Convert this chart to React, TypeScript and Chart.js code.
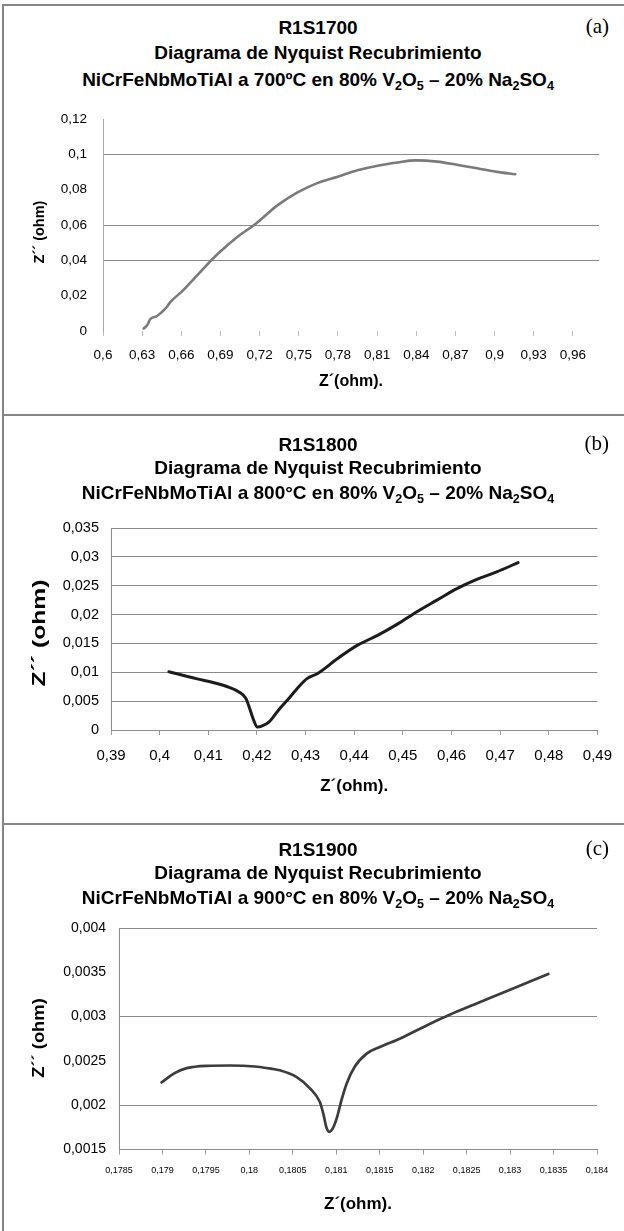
import React, { useEffect, useRef } from 'react';
import { Chart, registerables } from 'chart.js';

Chart.register(...registerables);

// ---------- Data: panel (a) R1S1700 ----------
const A_ZREAL = [0.6312, 0.6338, 0.6363, 0.6414, 0.6481, 0.6517, 0.6609, 0.6732, 0.6884, 0.7036, 0.7158, 0.7341, 0.7494, 0.7646, 0.7798, 0.795, 0.8104, 0.8256, 0.8393, 0.8561, 0.8713, 0.8866, 0.9018, 0.9159];
const A_ZIMAG = [0.0014, 0.0032, 0.0068, 0.0085, 0.0129, 0.0165, 0.0227, 0.0324, 0.044, 0.0537, 0.06, 0.0714, 0.0786, 0.0839, 0.0874, 0.091, 0.0936, 0.0954, 0.0966, 0.0959, 0.0941, 0.0922, 0.0901, 0.0888];
const A_XTICKS = [0.6, 0.63, 0.66, 0.69, 0.72, 0.75, 0.78, 0.81, 0.84, 0.87, 0.9, 0.93, 0.96];
const A_YTICKS = [0, 0.02, 0.04, 0.06, 0.08, 0.1, 0.12];
const A_GRID = [0.04, 0.06, 0.1];

// ---------- Data: panel (b) R1S1800 ----------
const B_ZREAL = [0.4019, 0.4075, 0.4116, 0.4143, 0.4163, 0.4177, 0.4184, 0.4192, 0.4201, 0.4211, 0.4225, 0.4245, 0.4266, 0.4286, 0.4303, 0.4325, 0.4366, 0.4407, 0.4448, 0.4488, 0.4529, 0.457, 0.4611, 0.4652, 0.4693, 0.4737];
const B_ZIMAG = [0.0101, 0.0089, 0.0081, 0.0074, 0.0066, 0.0055, 0.004, 0.002, 0.0005, 0.0007, 0.0014, 0.0035, 0.0055, 0.0075, 0.0089, 0.0098, 0.0124, 0.0147, 0.0164, 0.0183, 0.0205, 0.0225, 0.0245, 0.0261, 0.0274, 0.029];
const B_XTICKS = [0.39, 0.4, 0.41, 0.42, 0.43, 0.44, 0.45, 0.46, 0.47, 0.48, 0.49];
const B_YTICKS = [0, 0.005, 0.01, 0.015, 0.02, 0.025, 0.03, 0.035];
const B_GRID = [0.005, 0.01, 0.015, 0.02, 0.025, 0.03, 0.035];

// ---------- Data: panel (c) R1S1900 ----------
const C_ZREAL = [0.17899, 0.17914, 0.17928, 0.17951, 0.17978, 0.18006, 0.18025, 0.18035, 0.18054, 0.1807, 0.18081, 0.18085, 0.18089, 0.18092, 0.18096, 0.18101, 0.18106, 0.18112, 0.18121, 0.18135, 0.1815, 0.18173, 0.18208, 0.18231, 0.18265, 0.183, 0.18344];
const C_ZIMAG = [0.002257, 0.002362, 0.002418, 0.002444, 0.002448, 0.002437, 0.002412, 0.002394, 0.002319, 0.002188, 0.002038, 0.001907, 0.001738, 0.0017, 0.001738, 0.001869, 0.002057, 0.002245, 0.002431, 0.002582, 0.002656, 0.002751, 0.00292, 0.003024, 0.003162, 0.003304, 0.003482];
const C_XTICKS = [0.1785, 0.179, 0.1795, 0.18, 0.1805, 0.181, 0.1815, 0.182, 0.1825, 0.183, 0.1835, 0.184];
const C_YTICKS = [0.0015, 0.002, 0.0025, 0.003, 0.0035, 0.004];
const C_GRID = [0.002, 0.003, 0.004];

const SANS = '"Liberation Sans", Arial, Helvetica, sans-serif';
const SERIF = '"Liberation Serif", "Times New Roman", Times, serif';
const X_TITLE = 'Z´(ohm).';
const Y_TITLE = 'Z´´ (ohm)';

const fmt = (v: number) => String(v).replace('.', ',');

type Spec = {
  key: string;
  letter: string;
  name: string;
  temp: string;
  canvasTop: number;
  canvasH: number;
  area: { l: number; r: number; t: number; b: number };
  titleTops: number[];
  letterTop: number;
  xs: number[];
  ys: number[];
  xTicks: number[];
  yTicks: number[];
  grid: number[];
  xMin: number; xMax: number; yMin: number; yMax: number;
  lineColor: string; lineWidth: number;
  xFont: number; yFont: number; xPad: number; yPad: number;
  xBorder: boolean;
  tickColor: string; axisColor: string;
  xTitleSize: number; xTitleY: number;
  yTitleSize: number; yTitleX: number; yTitleY: number; yStretch: number;
};

const SPECS: Spec[] = [
  {
    key: 'a', letter: '(a)', name: 'R1S1700', temp: '700ºC',
    canvasTop: 95, canvasH: 315,
    area: { l: 103, r: 599, t: 106, b: 331 },
    titleTops: [18, 43, 70], letterTop: 14,
    xs: A_ZREAL, ys: A_ZIMAG, xTicks: A_XTICKS, yTicks: A_YTICKS, grid: A_GRID,
    xMin: 0.6, xMax: 0.98, yMin: 0, yMax: 0.12,
    lineColor: '#7a7a7a', lineWidth: 2.6,
    xFont: 13.5, yFont: 13.5, xPad: 11, yPad: 16,
    xBorder: false, tickColor: '#bdbdbd', axisColor: '#a6a6a6',
    xTitleSize: 16, xTitleY: 381.7,
    yTitleSize: 14.5, yTitleX: 40, yTitleY: 232, yStretch: 1,
  },
  {
    key: 'b', letter: '(b)', name: 'R1S1800', temp: '800°C',
    canvasTop: 420, canvasH: 400,
    area: { l: 111, r: 598, t: 528, b: 730 },
    titleTops: [435, 458, 483], letterTop: 431,
    xs: B_ZREAL, ys: B_ZIMAG, xTicks: B_XTICKS, yTicks: B_YTICKS, grid: B_GRID,
    xMin: 0.39, xMax: 0.49, yMin: 0, yMax: 0.035,
    lineColor: '#1c1c1c', lineWidth: 3,
    xFont: 15, yFont: 14.5, xPad: 12, yPad: 12,
    xBorder: true, tickColor: '#9a9a9a', axisColor: '#8c8c8c',
    xTitleSize: 17, xTitleY: 786.7,
    yTitleSize: 18, yTitleX: 40, yTitleY: 633, yStretch: 1.37,
  },
  {
    key: 'c', letter: '(c)', name: 'R1S1900', temp: '900°C',
    canvasTop: 828, canvasH: 403,
    area: { l: 119, r: 597, t: 928, b: 1149.5 },
    titleTops: [840, 863, 888], letterTop: 836,
    xs: C_ZREAL, ys: C_ZIMAG, xTicks: C_XTICKS, yTicks: C_YTICKS, grid: C_GRID,
    xMin: 0.1785, xMax: 0.184, yMin: 0.0015, yMax: 0.004,
    lineColor: '#3c3c3c', lineWidth: 2.7,
    xFont: 9, yFont: 14, xPad: 11, yPad: 13,
    xBorder: true, tickColor: '#9a9a9a', axisColor: '#8c8c8c',
    xTitleSize: 17, xTitleY: 1204,
    yTitleSize: 16, yTitleX: 40, yTitleY: 1038, yStretch: 1.15,
  },
];

function NyquistChart({ s }: { s: Spec }) {
  const ref = useRef<HTMLCanvasElement | null>(null);
  useEffect(() => {
    if (!ref.current) return;
    const canvasBottom = s.canvasTop + s.canvasH;
    const yTitlePlugin = {
      id: 'yTitle' + s.key,
      afterDraw(chart: any) {
        const ctx = chart.ctx;
        ctx.save();
        ctx.font = `bold ${s.yTitleSize}px ${SANS}`;
        ctx.fillStyle = '#000';
        ctx.translate(s.yTitleX, s.yTitleY - s.canvasTop);
        ctx.rotate(-Math.PI / 2);
        ctx.scale(s.yStretch, 1);
        ctx.textAlign = 'center';
        ctx.textBaseline = 'middle';
        ctx.fillText(Y_TITLE, 0, 0);
        ctx.restore();
      },
    };
    const chart = new Chart(ref.current, {
      type: 'line',
      data: {
        datasets: [
          {
            data: s.xs.map((x, i) => ({ x, y: s.ys[i] })),
            borderColor: s.lineColor,
            borderWidth: s.lineWidth,
            pointRadius: 0,
            fill: false,
            cubicInterpolationMode: 'monotone',
            borderCapStyle: 'round',
            borderJoinStyle: 'round',
          },
        ],
      },
      options: {
        animation: false,
        responsive: false,
        maintainAspectRatio: false,
        devicePixelRatio: 1,
        layout: {
          padding: { left: 0, top: s.area.t - s.canvasTop, right: 624 - s.area.r, bottom: 0 },
        },
        plugins: {
          legend: { display: false },
          tooltip: { enabled: false },
          title: { display: false },
        },
        scales: {
          x: {
            type: 'linear',
            min: s.xMin,
            max: s.xMax,
            afterBuildTicks: (sc: any) => {
              sc.ticks = s.xTicks.map((v) => ({ value: v }));
            },
            afterFit: (sc: any) => {
              sc.height = canvasBottom - s.area.b;
            },
            grid: {
              drawOnChartArea: false,
              drawTicks: true,
              tickLength: 5,
              color: s.tickColor,
              lineWidth: 1,
            },
            border: { display: s.xBorder, color: s.axisColor, width: 1 },
            ticks: {
              autoSkip: false,
              maxRotation: 0,
              minRotation: 0,
              padding: s.xPad,
              color: '#000',
              font: { family: SANS, size: s.xFont },
              callback: (v: any) => fmt(Number(v)),
            },
            title: {
              display: true,
              text: X_TITLE,
              color: '#000',
              font: { family: SANS, size: s.xTitleSize, weight: 'bold' },
              padding: { top: 0, bottom: canvasBottom - s.xTitleY - s.xTitleSize * 0.6 },
            },
          },
          y: {
            type: 'linear',
            min: s.yMin,
            max: s.yMax,
            afterBuildTicks: (sc: any) => {
              sc.ticks = s.yTicks.map((v) => ({ value: v }));
            },
            afterFit: (sc: any) => {
              sc.width = s.area.l;
            },
            grid: {
              drawTicks: false,
              lineWidth: 1,
              color: (c: any) => {
                const v = c.tick ? c.tick.value : NaN;
                return s.grid.some((g) => Math.abs(g - v) < 1e-9) ? '#8a8a8a' : 'rgba(0,0,0,0)';
              },
            },
            border: { display: true, color: s.axisColor, width: 1 },
            ticks: {
              padding: s.yPad,
              color: '#000',
              font: { family: SANS, size: s.yFont },
              callback: (v: any) => fmt(Number(v)),
            },
          },
        },
      } as any,
      plugins: [yTitlePlugin],
    });
    return () => chart.destroy();
  }, [s]);
  return (
    <canvas
      ref={ref}
      width={624}
      height={s.canvasH}
      style={{ position: 'absolute', left: 0, top: s.canvasTop, width: 624, height: s.canvasH }}
    />
  );
}

const subStyle: React.CSSProperties = { fontSize: '0.66em', verticalAlign: '-0.28em', lineHeight: 0 };

function Titles({ s }: { s: Spec }) {
  const line: React.CSSProperties = {
    position: 'absolute',
    left: 18,
    width: 600,
    textAlign: 'center',
    fontFamily: SANS,
    fontWeight: 'bold',
    fontSize: 19,
    lineHeight: '20px',
    color: '#000',
    whiteSpace: 'nowrap',
  };
  return (
    <>
      <div style={{ ...line, top: s.titleTops[0] }}>{s.name}</div>
      <div style={{ ...line, top: s.titleTops[1] }}>Diagrama de Nyquist Recubrimiento</div>
      <div style={{ ...line, top: s.titleTops[2] }}>
        NiCrFeNbMoTiAl a {s.temp} en 80% V<sub style={subStyle}>2</sub>O<sub style={subStyle}>5</sub> – 20% Na
        <sub style={subStyle}>2</sub>SO<sub style={subStyle}>4</sub>
      </div>
      <div
        style={{
          position: 'absolute',
          right: 15,
          top: s.letterTop,
          fontFamily: SERIF,
          fontSize: 21,
          lineHeight: '24px',
          color: '#000',
        }}
      >
        {s.letter}
      </div>
    </>
  );
}

export default function App() {
  const border = '#858585';
  return (
    <div
      style={{
        position: 'absolute',
        left: 0,
        top: 0,
        width: 624,
        height: 1231,
        background: '#fff',
        overflow: 'hidden',
      }}
    >
      {SPECS.map((s) => (
        <NyquistChart key={s.key} s={s} />
      ))}
      {SPECS.map((s) => (
        <Titles key={'t' + s.key} s={s} />
      ))}
      <div style={{ position: 'absolute', left: 2, top: 4, width: 2, height: 1227, background: border }} />
      <div style={{ position: 'absolute', left: 2, top: 4, width: 622, height: 2, background: border }} />
      <div style={{ position: 'absolute', left: 2, top: 414, width: 622, height: 2, background: border }} />
      <div style={{ position: 'absolute', left: 2, top: 823, width: 622, height: 2, background: border }} />
    </div>
  );
}
